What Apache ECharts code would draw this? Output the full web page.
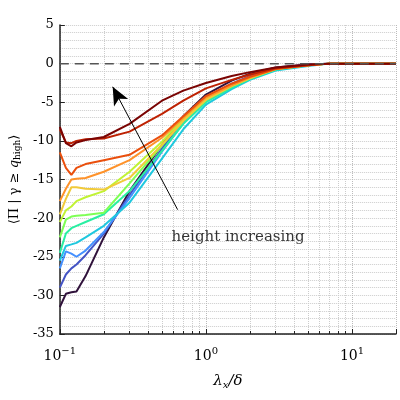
<!DOCTYPE html><html><head><meta charset="utf-8">
<script src="https://cdn.jsdelivr.net/npm/echarts@6/dist/echarts.min.js"></script>
<style>html,body{margin:0;background:#fff}#c{width:400px;height:400px}</style></head><body><div id="c"></div>
<script>
const xs = [0.1,0.11,0.12,0.13,0.15,0.2,0.3,0.5,0.7,1,1.5,2,3,5,7,10,20];
const colors = ['#30123b','#4454c4','#4490fe','#1fc8de','#29efa2','#7eff55','#c1f334','#f1ca3a','#fe922a','#ea4f0d','#be2102','#7a0403'];
const s1 = [-31.5,-29.8,-29.6,-29.5,-27.5,-22.5,-16.5,-10.5,-6.8,-4,-2.2,-1.3,-0.5,-0.1,0,0,0];
const s2 = [-29,-27.3,-26.5,-26,-24.8,-22,-17,-11,-7.3,-4.4,-2.6,-1.6,-0.6,-0.1,0,0,0];
const s3 = [-26.5,-24.3,-24.6,-25,-24.2,-21.8,-17.4,-11.4,-7.7,-4.8,-2.9,-1.8,-0.7,-0.2,0,0,0];
const s4 = [-25.5,-23.6,-23.4,-23.2,-22.5,-21,-18,-12.3,-8.5,-5.3,-3.3,-2.1,-0.9,-0.3,0,0,0];
const s5 = [-24.5,-22,-21.3,-21,-20.5,-19.5,-16.5,-11.3,-7.8,-5,-3.1,-2,-0.8,-0.2,0,0,0];
const s6 = [-22.5,-20.2,-19.8,-19.7,-19.6,-19.3,-15.5,-10.6,-7.4,-4.7,-2.9,-1.9,-0.7,-0.2,0,0,0];
const s7 = [-20.5,-19,-18.5,-17.8,-17.3,-16.5,-14,-10.1,-7.1,-4.5,-2.8,-1.8,-0.7,-0.2,0,0,0];
const s8 = [-19.5,-17.5,-16,-16,-16.2,-16.3,-14.8,-10.5,-7.4,-4.7,-2.9,-1.9,-0.7,-0.2,0,0,0];
const s9 = [-17.8,-16.2,-15,-14.9,-14.8,-14,-12.5,-9.6,-7,-4.4,-2.8,-1.8,-0.7,-0.2,0,0,0];
const s10 = [-11.5,-13.5,-14.4,-13.5,-13,-12.5,-11.8,-9.3,-6.8,-4.2,-2.6,-1.7,-0.7,-0.2,0,0,0];
const s11 = [-8.5,-10.2,-10.3,-10,-9.8,-9.7,-8.8,-6.5,-4.8,-3.2,-2.1,-1.4,-0.6,-0.2,0,0,0];
const s12 = [-8.2,-10.3,-10.7,-10.2,-9.9,-9.5,-7.8,-4.8,-3.5,-2.5,-1.6,-1.1,-0.5,-0.1,0,0,0];
const series = [s1,s2,s3,s4,s5,s6,s7,s8,s9,s10,s11,s12];
const yTicks = [5,0,-5,-10,-15,-20,-25,-30,-35];
const arrowFrom = [0.64,-18.9], arrowTo = [0.23,-3];
const noteText = 'height increasing', notePos = [1.66,-22.5];

const ch = echarts.init(document.getElementById('c'));
const ser = series.map((d,i)=>({type:'line',data:xs.map((x,j)=>[x,d[j]]),showSymbol:false,
  lineStyle:{width:2,color:colors[i]},itemStyle:{color:colors[i]},z:3}));
ser.push({type:'line',data:[[0.1,0],[20,0]],showSymbol:false,lineStyle:{color:'#555',type:[9,6],width:1.5},z:4,
  markLine:{silent:true,symbolSize:[12,18],lineStyle:{color:'#000',type:'solid',width:1},
    data:[[{coord:arrowFrom,symbol:'none'},{coord:arrowTo,symbol:'arrow'}]],label:{show:false}}});
ser.push({type:'scatter',data:[notePos],symbolSize:0,label:{show:true,formatter:noteText,position:'inside',
  fontFamily:'DejaVu Serif',fontSize:15,color:'#000'}});
const sup = n=>'{b|10}{s|'+n+'}';
ch.setOption({
  animation:false,
  grid:{left:53,right:4,top:25,bottom:66},
  xAxis:{type:'log',min:0.1,max:20,logBase:10,
    axisLine:{onZero:false,lineStyle:{color:'#222',width:1.5}},
    axisTick:{inside:true,length:5},minorTick:{show:true,splitNumber:9,length:3},
    minorSplitLine:{show:true,lineStyle:{color:'#ccc',type:'dotted'}},
    splitLine:{show:true,lineStyle:{color:'#bbb',type:'dotted'}},
    axisLabel:{color:'#000',margin:12,formatter:v=>{const e=Math.round(Math.log10(v));return Math.abs(Math.log10(v)-e)<1e-6?sup(e<0?'−1':e):'';},
      rich:{b:{fontFamily:'DejaVu Serif',fontSize:14},s:{fontFamily:'DejaVu Serif',fontSize:10,verticalAlign:'top',padding:[0,0,10,0]}}},
    name:'λ{s|x}/δ',nameLocation:'middle',nameGap:38,
    nameTextStyle:{fontFamily:'DejaVu Serif',fontSize:15,fontStyle:'italic',color:'#000',rich:{s:{fontFamily:'DejaVu Serif',fontSize:10,fontStyle:'italic',padding:[8,0,0,0]}}}},
  yAxis:{type:'value',min:-35,max:5,interval:5,
    axisLine:{show:true,lineStyle:{color:'#222',width:1.5}},
    axisTick:{inside:true,length:5},minorTick:{show:true,splitNumber:5,length:0},
    splitLine:{show:true,lineStyle:{color:'#ccc',type:'dotted'}},
    minorSplitLine:{show:true,lineStyle:{color:'#ccc',type:'dotted'}},
    axisLabel:{color:'#000',fontFamily:'DejaVu Serif',fontSize:13,margin:6,formatter:v=>yTicks.includes(v)?String(v):''},
    name:'⟨Π | γ ≥ {i|q}{s|high}⟩',nameLocation:'middle',nameGap:36,nameRotate:90,
    nameTextStyle:{fontFamily:'DejaVu Serif',fontSize:13,color:'#000',rich:{i:{fontFamily:'DejaVu Serif',fontSize:13,fontStyle:'italic'},s:{fontFamily:'DejaVu Serif',fontSize:9,padding:[6,0,0,0]}}}},
  series:ser
});
</script></body></html>
